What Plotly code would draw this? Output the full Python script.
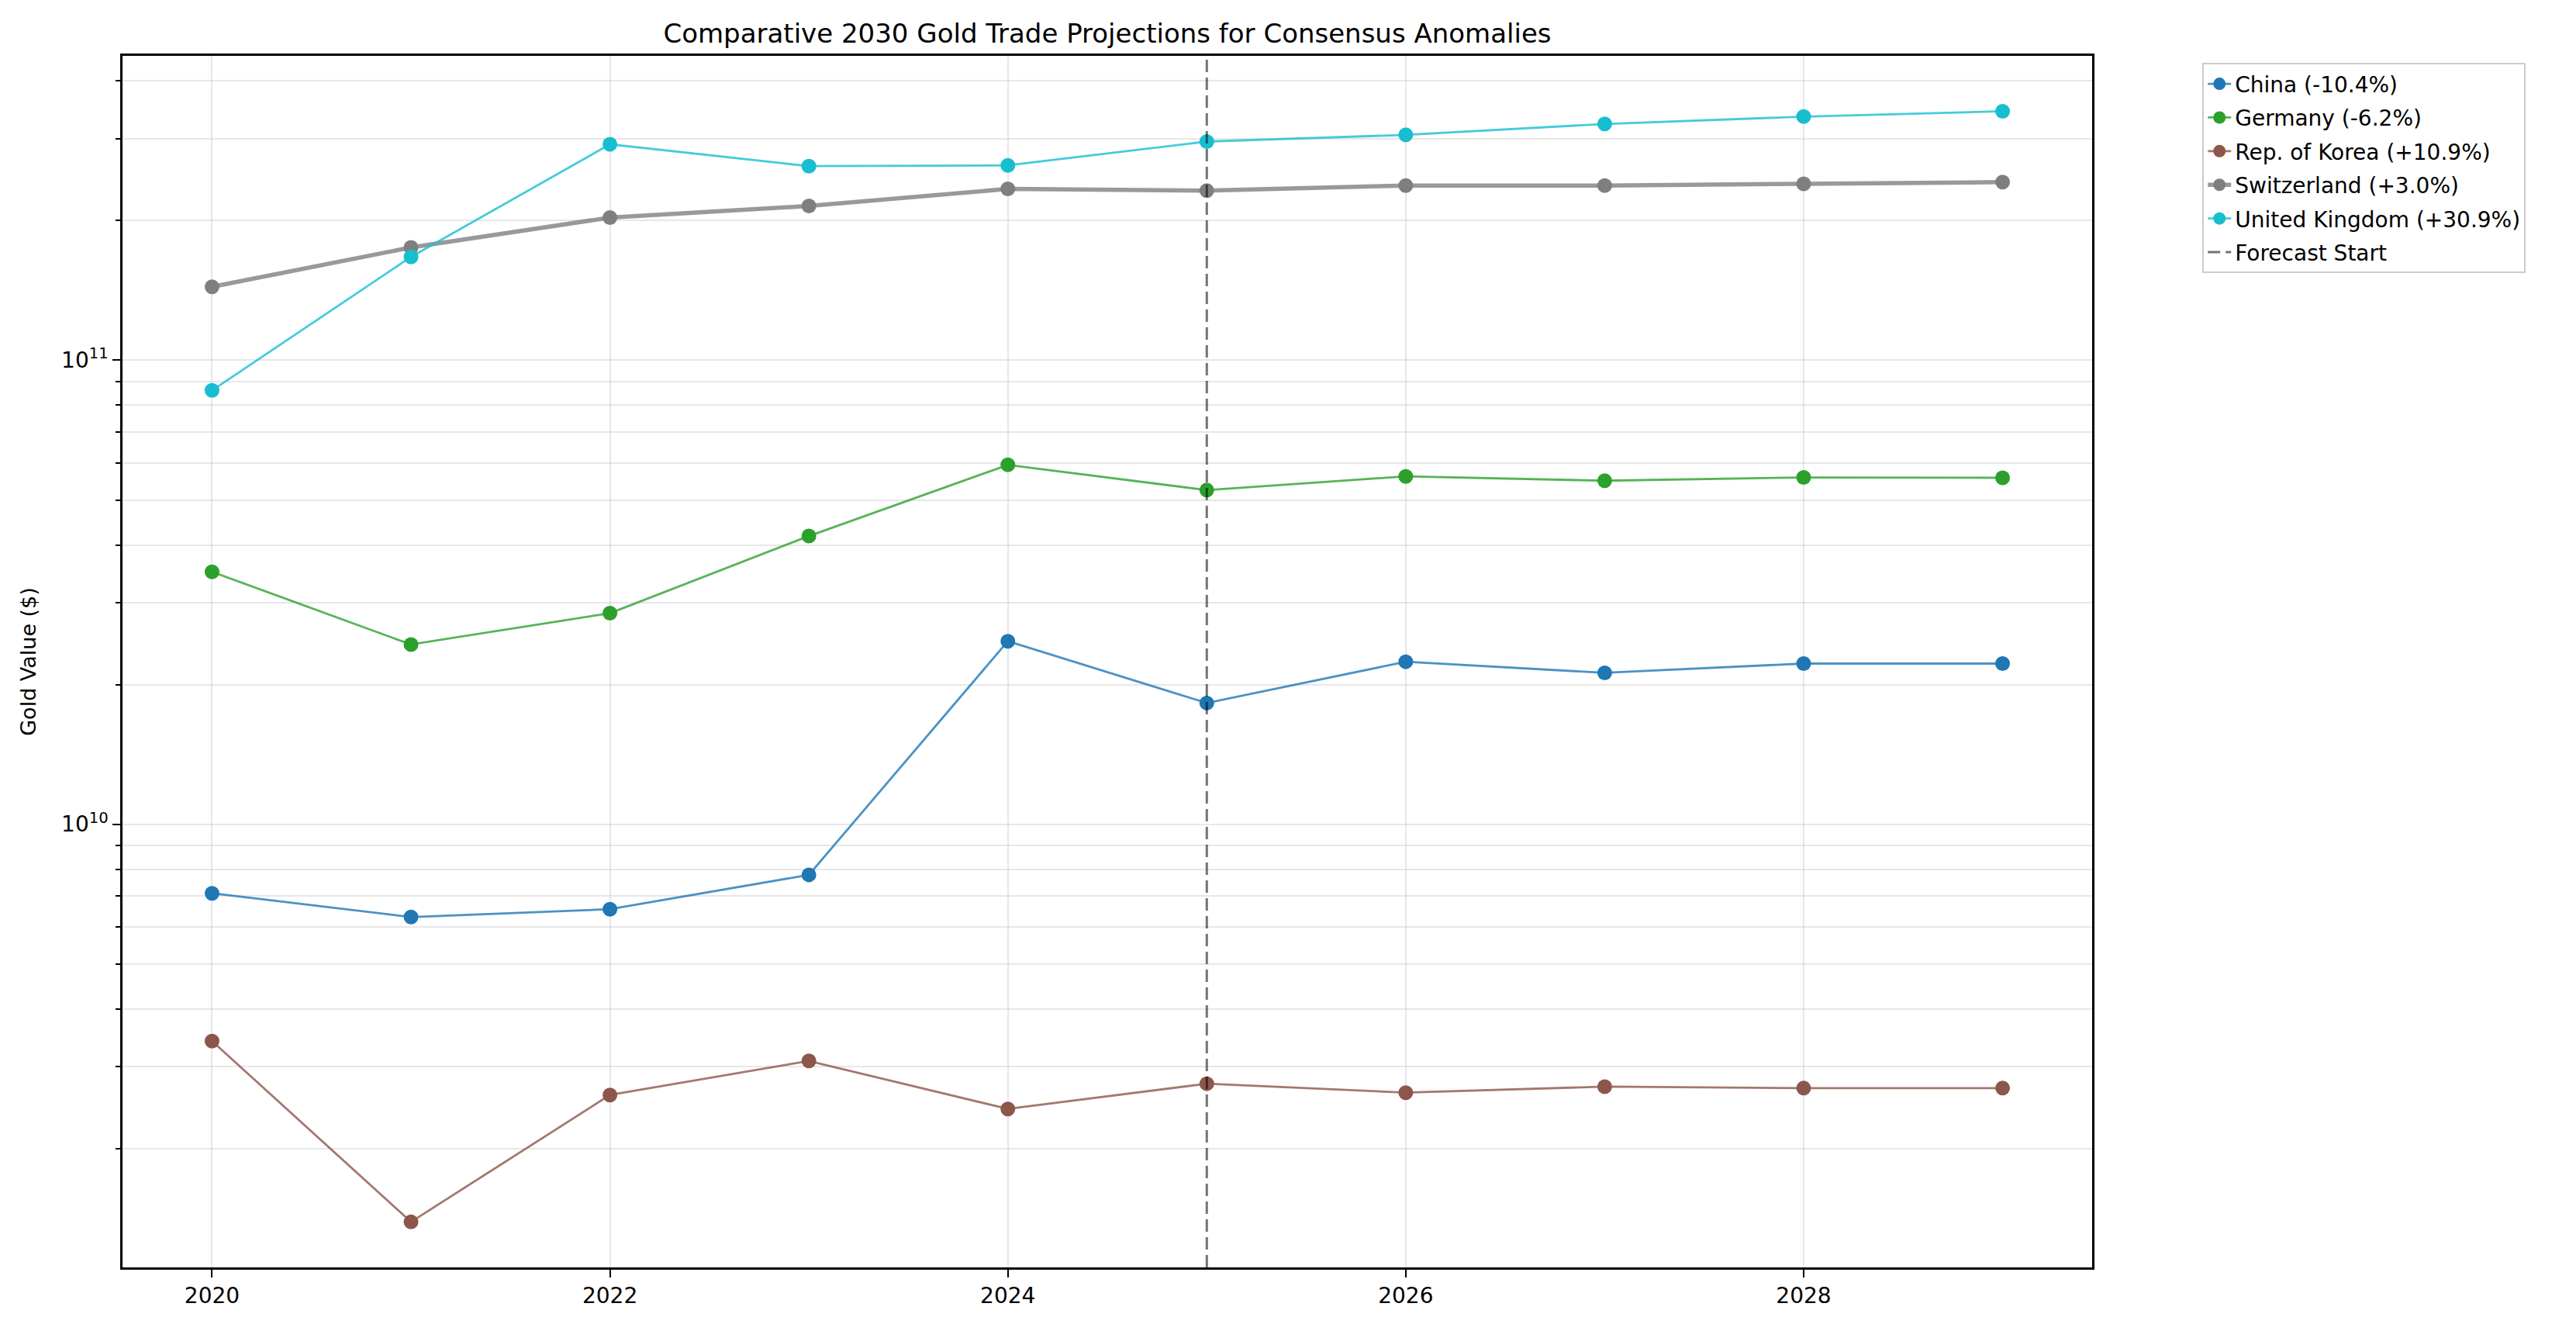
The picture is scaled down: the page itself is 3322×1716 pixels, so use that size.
import plotly.graph_objects as go

years = [2020, 2021, 2022, 2023, 2024, 2025, 2026, 2027, 2028, 2029]

china = [7.10e9, 6.31e9, 6.56e9, 7.78e9, 2.48e10, 1.825e10, 2.24e10, 2.12e10, 2.22e10, 2.22e10]
germany = [3.50e10, 2.44e10, 2.85e10, 4.18e10, 5.95e10, 5.25e10, 5.62e10, 5.50e10, 5.59e10, 5.58e10]
korea = [3.41e9, 1.39e9, 2.61e9, 3.09e9, 2.435e9, 2.76e9, 2.64e9, 2.72e9, 2.70e9, 2.70e9]
switzerland = [1.44e11, 1.75e11, 2.03e11, 2.15e11, 2.34e11, 2.32e11, 2.38e11, 2.38e11, 2.40e11, 2.42e11]
uk = [8.61e10, 1.67e11, 2.92e11, 2.62e11, 2.63e11, 2.96e11, 3.06e11, 3.23e11, 3.35e11, 3.44e11]

names = ["China (-10.4%)", "Germany (-6.2%)", "Rep. of Korea (+10.9%)",
         "Switzerland (+3.0%)", "United Kingdom (+30.9%)"]
series = [china, germany, korea, switzerland, uk]
colors = ["31,119,180", "44,160,44", "140,86,75", "127,127,127", "23,190,207"]
widths = [2.8, 2.8, 2.8, 5.5, 2.8]

forecast_start = 2025

y_tickvals = [1e10, 1e11]
y_ticktext = ["10<sup>10</sup>", "10<sup>11</sup>"]
minor_vals = [k * 10 ** e for e in (9, 10, 11) for k in range(2, 10)]

fig = go.Figure()

for i in range(len(series)):
    fig.add_trace(go.Scatter(
        x=years, y=series[i], name=names[i], mode="lines+markers",
        line=dict(color="rgba(%s,0.8)" % colors[i], width=widths[i]),
        marker=dict(color="rgb(%s)" % colors[i], size=19),
        legendgroup=names[i],
    ))

# forecast marker, shown in the legend too
fig.add_shape(type="line", x0=forecast_start, x1=forecast_start, y0=0, y1=1,
              xref="x", yref="paper",
              line=dict(color="rgba(0,0,0,0.55)", width=3, dash="16px,7px"),
              showlegend=True, name="Forecast Start", legendgroup="fc")

grid = "rgba(176,176,176,0.3)"

fig.update_layout(
    width=3322, height=1716,
    paper_bgcolor="white", plot_bgcolor="white",
    font=dict(family="DejaVu Sans", size=28, color="black"),
    margin=dict(l=150, r=632, t=64, b=90),
    title=dict(text="Comparative 2030 Gold Trade Projections for Consensus Anomalies",
               x=0.5, xref="paper", xanchor="center",
               y=1 - 35 / 1716, yref="container", yanchor="middle",
               font=dict(size=34)),
    showlegend=True,
    legend=dict(x=1.056, y=0.994, xanchor="left", yanchor="top",
                bgcolor="white", bordercolor="#cccccc", borderwidth=2,
                font=dict(size=28), tracegroupgap=4),
    xaxis=dict(range=[2019.55, 2029.45], tickvals=[2020, 2022, 2024, 2026, 2028],
               showgrid=True, gridcolor=grid, gridwidth=2,
               showline=True, mirror=True, linecolor="black", linewidth=2.5,
               ticks="outside", ticklen=10, tickwidth=2, tickcolor="black",
               zeroline=False),
    yaxis=dict(type="log", range=[9.045, 11.656],
               tickvals=y_tickvals, ticktext=y_ticktext,
               showgrid=True, gridcolor=grid, gridwidth=2,
               showline=True, mirror=True, linecolor="black", linewidth=2.5,
               ticks="outside", ticklen=10, tickwidth=2, tickcolor="black",
               title=dict(text="Gold Value ($)", standoff=25, font=dict(size=27)),
               minor=dict(tickmode="array", tickvals=minor_vals, showgrid=True,
                          gridcolor=grid, gridwidth=2, ticks="outside",
                          ticklen=6, tickwidth=2, tickcolor="black"),
               zeroline=False),
)

fig.write_html("out.html")
